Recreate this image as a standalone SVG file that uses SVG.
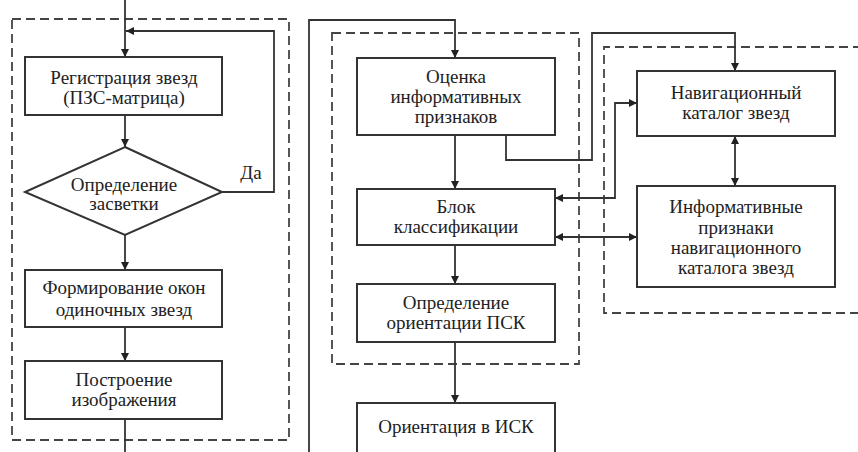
<svg xmlns="http://www.w3.org/2000/svg" width="858" height="452" viewBox="0 0 858 452">
<style>
.box{fill:#fff;stroke:#333;stroke-width:2}
.dash{fill:none;stroke:#444;stroke-width:1.8;stroke-dasharray:9,5}
.ln{fill:none;stroke:#333;stroke-width:1.8}
.t{font-family:'Liberation Serif','Times New Roman','DejaVu Serif',serif;font-size:19px;fill:#222;text-anchor:middle}
</style>
<defs>
<marker id="ah" viewBox="0 0 10 10" refX="10" refY="5" markerWidth="9" markerHeight="8" markerUnits="userSpaceOnUse" orient="auto-start-reverse">
<path d="M0,0 L10,5 L0,10 z" fill="#222"/>
</marker>
</defs>
<rect width="858" height="452" fill="#fff"/>
<g id="frames">
<rect class="dash" x="12" y="19" width="277" height="421"/>
<rect class="dash" x="332" y="33" width="247" height="331"/>
<path class="dash" d="M862,47 H604 V313 H862"/>
</g>
<g id="connectors">
<path class="ln" d="M125,0 V57" marker-end="url(#ah)"/>
<path class="ln" d="M222,192 H274 V31 H126" marker-end="url(#ah)"/>
<path class="ln" d="M125,115 V147" marker-end="url(#ah)"/>
<path class="ln" d="M125,235 V270" marker-end="url(#ah)"/>
<path class="ln" d="M125,327 V361" marker-end="url(#ah)"/>
<path class="ln" d="M125,419 V452"/>
<path class="ln" d="M309,452 V20 H455 V58" marker-end="url(#ah)"/>
<path class="ln" d="M455,135 V189" marker-end="url(#ah)"/>
<path class="ln" d="M455,245 V284" marker-end="url(#ah)"/>
<path class="ln" d="M455,342 V403" marker-end="url(#ah)"/>
<path class="ln" d="M506,135 V160 H592 V33 H735 V71" marker-end="url(#ah)"/>
<path class="ln" d="M555,198 H615 V103 H637" marker-start="url(#ah)" marker-end="url(#ah)"/>
<path class="ln" d="M555,237 H637" marker-start="url(#ah)" marker-end="url(#ah)"/>
<path class="ln" d="M735,136 V186" marker-start="url(#ah)" marker-end="url(#ah)"/>
</g>
<g id="registration">
<rect class="box" x="25" y="57" width="197" height="58"/>
<text class="t" x="124" y="84" font-family="Liberation Serif">Регистрация звезд</text>
<text class="t" x="124" y="104">(ПЗС-матрица)</text>
</g>
<g id="flare">
<path class="box" d="M125,147 L222,192 L125,235 L25,192 z"/>
<text class="t" x="124" y="191">Определение</text>
<text class="t" x="124" y="210">засветки</text>
</g>
<g id="yes-label"><text class="t" x="251" y="179">Да</text></g>
<g id="windows">
<rect class="box" x="25" y="270" width="197" height="57"/>
<text class="t" x="124" y="294">Формирование окон</text>
<text class="t" x="124" y="316">одиночных звезд</text>
</g>
<g id="image">
<rect class="box" x="25" y="361" width="197" height="58"/>
<text class="t" x="124" y="386">Построение</text>
<text class="t" x="124" y="406">изображения</text>
</g>
<g id="features">
<rect class="box" x="357" y="58" width="198" height="77"/>
<text class="t" x="456" y="83">Оценка</text>
<text class="t" x="456" y="103">информативных</text>
<text class="t" x="456" y="123">признаков</text>
</g>
<g id="classifier">
<rect class="box" x="357" y="189" width="198" height="56"/>
<text class="t" x="456" y="213">Блок</text>
<text class="t" x="456" y="233">классификации</text>
</g>
<g id="psk">
<rect class="box" x="357" y="284" width="198" height="58"/>
<text class="t" x="456" y="309">Определение</text>
<text class="t" x="456" y="329">ориентации ПСК</text>
</g>
<g id="isk">
<rect class="box" x="357" y="403" width="198" height="60"/>
<text class="t" x="456" y="433">Ориентация в ИСК</text>
</g>
<g id="catalog">
<rect class="box" x="637" y="71" width="198" height="65"/>
<text class="t" x="736" y="99">Навигационный</text>
<text class="t" x="736" y="119">каталог звезд</text>
</g>
<g id="catalog-features">
<rect class="box" x="637" y="186" width="198" height="101"/>
<text class="t" x="736" y="213">Информативные</text>
<text class="t" x="736" y="234">признаки</text>
<text class="t" x="736" y="254">навигационного</text>
<text class="t" x="736" y="274">каталога звезд</text>
</g>
</svg>
